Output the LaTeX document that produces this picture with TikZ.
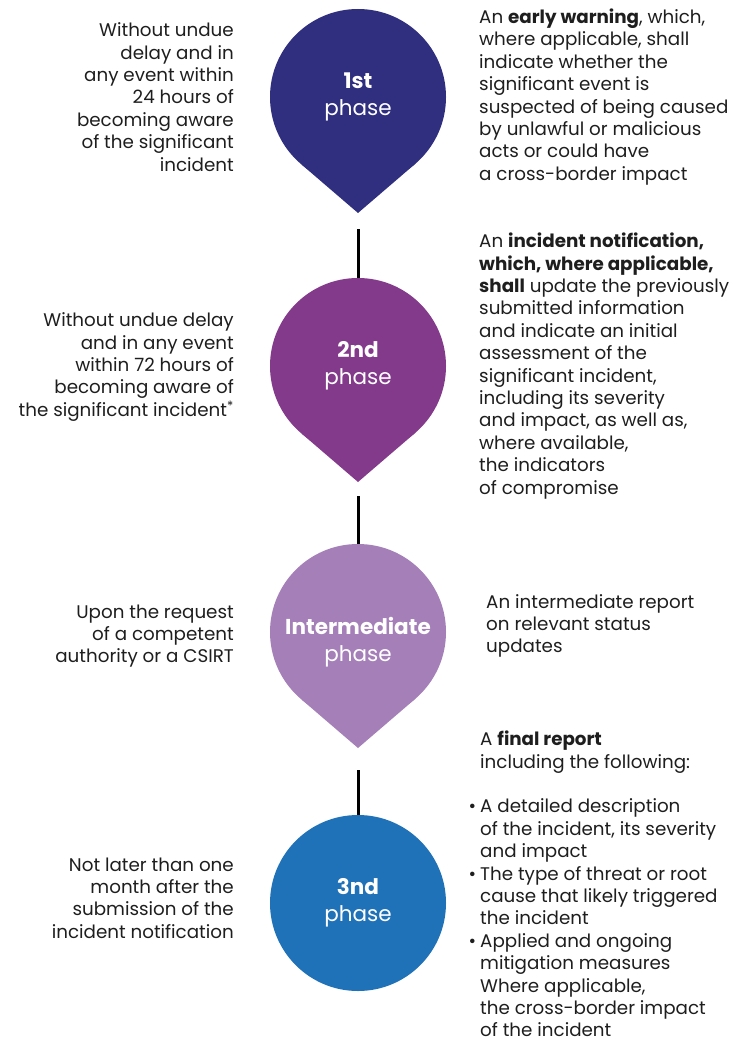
\documentclass[tikz,border=0pt]{standalone}
\usepackage{fontspec}
\setmainfont{Poppins}
\definecolor{navy}{HTML}{2F2E7F}
\definecolor{plum}{HTML}{833A8B}
\definecolor{lilac}{HTML}{A57FB8}
\definecolor{azure}{HTML}{1F71B8}
\definecolor{ink}{HTML}{1E1E1E}
\begin{document}
\begin{tikzpicture}[x=1pt,y=-1pt,
    phase/.style={circle,minimum size=176pt,inner sep=0pt,outer sep=0pt,text=white,align=center,font=\fontsize{21.5}{27}\selectfont},
    when/.style={anchor=east,align=right,inner sep=0pt,text=ink,font=\fontsize{18.3}{22.4}\selectfont},
    what/.style={anchor=west,align=left,inner sep=0pt,text=ink,font=\fontsize{18.3}{22.4}\selectfont},
    link/.style={line width=3pt}]
    \useasboundingbox (0,0) rectangle (748,1043);
    \node[phase,fill=navy] (p1) at (358,97) {\textbf{1st}\\phase};
    \node[phase,fill=plum] (p2) at (358,366) {\textbf{2nd}\\phase};
    \node[phase,fill=lilac] (p3) at (358,632) {\raisebox{-11pt}[\height][\depth]{\begin{tabular}{@{}c@{}}\textbf{Intermediate}\\phase\end{tabular}}};
    \node[phase,fill=azure] (p4) at (358,903) {\textbf{3nd}\\phase};
    \fill[navy] (p1.-49.4) -- (358,213) -- (p1.-130.6) -- cycle;
    \fill[plum] (p2.-49.4) -- (358,482) -- (p2.-130.6) -- cycle;
    \fill[lilac] (p3.-49.4) -- (358,748) -- (p3.-130.6) -- cycle;
    \coordinate (s1) at (358,229);
    \coordinate (s2) at (358,496);
    \coordinate (s3) at (358,770);
    \draw[link] (s1) -- (p2.north);
    \draw[link] (s2) -- (p3.north);
    \draw[link] (s3) -- (p4.north);
    \node[when] (w1) at (234,97) {Without undue\\delay and in\\any event within\\24 hours of\\becoming aware\\of the significant\\incident};
    \node[when] (w2) at (234,367) {Without undue delay\\and in any event\\within 72 hours of\\becoming aware of\\the significant incident\textsuperscript{*}};
    \node[when] (w3) at (234,636) {Upon the request\\of a competent\\authority or a CSIRT};
    \node[when] (w4) at (234,898) {Not later than one\\month after the\\submission of the\\incident notification};
    \node[what] (r1) at (479,97) {An \textbf{early warning}, which,\\where applicable, shall\\indicate whether the\\significant event is\\suspected of being caused\\by unlawful or malicious\\acts or could have\\a cross-border impact};
    \node[what] (r2) at (479,366) {An \textbf{incident notification,}\\\textbf{which, where applicable,}\\\textbf{shall} update the previously\\submitted information\\and indicate an initial\\assessment of the\\significant incident,\\including its severity\\and impact, as well as,\\where available,\\the indicators\\of compromise};
    \node[what] (r3) at (486,626) {An intermediate report\\on relevant status\\updates};
    \node[what] (r4) at (480,884) {A \textbf{final report}\\including the following:\\[22.4pt]\llap{\textbullet\hspace{4pt}}A detailed description\\of the incident, its severity\\and impact\\\llap{\textbullet\hspace{4pt}}The type of threat or root\\cause that likely triggered\\the incident\\\llap{\textbullet\hspace{4pt}}Applied and ongoing\\mitigation measures\\Where applicable,\\the cross-border impact\\of the incident};
\end{tikzpicture}
\end{document}
